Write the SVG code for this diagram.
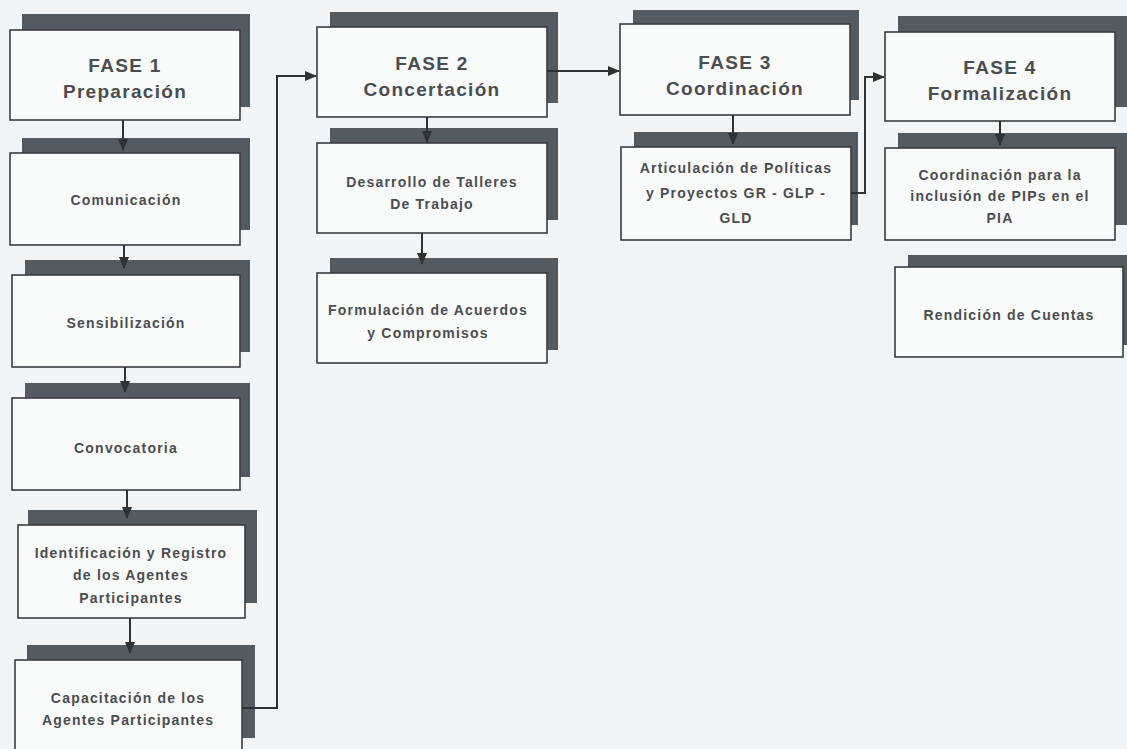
<svg xmlns="http://www.w3.org/2000/svg" width="1127" height="749" viewBox="0 0 1127 749">
<style>
.bg{fill:#f3f4f5}
.sh{fill:#535a60}
.bx{fill:#f9fafa;stroke:#3a3d40;stroke-width:1.6}
.t{font-family:"Liberation Sans",Arial,sans-serif;font-weight:bold;fill:#4a4d51;text-anchor:middle}
.h{font-size:19px;letter-spacing:1.3px}
.s{font-size:14px;letter-spacing:1.2px}
.c{fill:none;stroke:#2f3235;stroke-width:2}
</style>
<defs>
<marker id="ah" markerWidth="12" markerHeight="12" refX="11" refY="6" orient="auto" markerUnits="userSpaceOnUse">
<path d="M0,1 L12,6 L0,11 Z" fill="#2f3235"/>
</marker>
</defs>
<rect class="bg" x="0" y="0" width="1127" height="749"/>

<g id="fase1"><rect class="sh" x="22" y="14" width="228" height="93"/><rect class="bx" x="10" y="30" width="230" height="90"/>
<text class="t h" x="125" y="72">FASE 1</text><text class="t h" x="125" y="98">Preparación</text></g>
<g id="comunicacion"><rect class="sh" x="22" y="138" width="228" height="92"/><rect class="bx" x="10" y="153" width="230" height="92"/>
<text class="t s" x="126" y="205">Comunicación</text></g>
<g id="sensibilizacion"><rect class="sh" x="25" y="260" width="225" height="92"/><rect class="bx" x="12" y="275" width="228" height="92"/>
<text class="t s" x="126" y="328">Sensibilización</text></g>
<g id="convocatoria"><rect class="sh" x="25" y="383" width="225" height="94"/><rect class="bx" x="12" y="398" width="228" height="92"/>
<text class="t s" x="126" y="453">Convocatoria</text></g>
<g id="identificacion"><rect class="sh" x="28" y="510" width="229" height="93"/><rect class="bx" x="18" y="525" width="227" height="93"/>
<text class="t s" x="131" y="558">Identificación y Registro</text><text class="t s" x="131" y="580">de los Agentes</text><text class="t s" x="131" y="603">Participantes</text></g>
<g id="capacitacion"><rect class="sh" x="27" y="645" width="228" height="93"/><rect class="bx" x="15" y="660" width="227" height="92"/>
<text class="t s" x="128" y="703">Capacitación de los</text><text class="t s" x="128" y="725">Agentes Participantes</text></g>

<g id="fase2"><rect class="sh" x="330" y="12" width="228" height="91"/><rect class="bx" x="317" y="27" width="230" height="90"/>
<text class="t h" x="432" y="70">FASE 2</text><text class="t h" x="432" y="96">Concertación</text></g>
<g id="desarrollo"><rect class="sh" x="330" y="128" width="228" height="92"/><rect class="bx" x="317" y="143" width="230" height="90"/>
<text class="t s" x="432" y="187">Desarrollo de Talleres</text><text class="t s" x="432" y="209">De Trabajo</text></g>
<g id="formulacion"><rect class="sh" x="330" y="258" width="228" height="92"/><rect class="bx" x="317" y="273" width="230" height="90"/>
<text class="t s" x="428" y="315">Formulación de Acuerdos</text><text class="t s" x="428" y="338">y Compromisos</text></g>

<g id="fase3"><rect class="sh" x="633" y="10" width="226" height="90"/><rect class="bx" x="620" y="24" width="230" height="91"/>
<text class="t h" x="735" y="69">FASE 3</text><text class="t h" x="735" y="95">Coordinación</text></g>
<g id="articulacion"><rect class="sh" x="634" y="132" width="224" height="93"/><rect class="bx" x="621" y="147" width="230" height="93"/>
<text class="t s" x="736" y="173">Articulación de Políticas</text><text class="t s" x="736" y="198">y Proyectos GR - GLP -</text><text class="t s" x="736" y="223">GLD</text></g>

<g id="fase4"><rect class="sh" x="898" y="16" width="229" height="91"/><rect class="bx" x="885" y="32" width="230" height="89"/>
<text class="t h" x="1000" y="74">FASE 4</text><text class="t h" x="1000" y="100">Formalización</text></g>
<g id="coordinacion"><rect class="sh" x="898" y="133" width="229" height="92"/><rect class="bx" x="885" y="148" width="230" height="92"/>
<text class="t s" x="1000" y="180">Coordinación para la</text><text class="t s" x="1000" y="201">inclusión de PIPs en el</text><text class="t s" x="1000" y="223">PIA</text></g>
<g id="rendicion"><rect class="sh" x="908" y="255" width="219" height="90"/><rect class="bx" x="895" y="267" width="228" height="90"/>
<text class="t s" x="1009" y="320">Rendición de Cuentas</text></g>

<g id="connectors">
<path class="c" d="M123,120 V150" marker-end="url(#ah)"/>
<path class="c" d="M124,245 V268" marker-end="url(#ah)"/>
<path class="c" d="M125,367 V392" marker-end="url(#ah)"/>
<path class="c" d="M127,490 V518" marker-end="url(#ah)"/>
<path class="c" d="M130,618 V653" marker-end="url(#ah)"/>
<path class="c" d="M242,708 H277 V76 H316" marker-end="url(#ah)"/>
<path class="c" d="M427,117 V142" marker-end="url(#ah)"/>
<path class="c" d="M422,233 V264" marker-end="url(#ah)"/>
<path class="c" d="M547,71 H619" marker-end="url(#ah)"/>
<path class="c" d="M733,115 V144" marker-end="url(#ah)"/>
<path class="c" d="M851,193 H865 V77 H884" marker-end="url(#ah)"/>
<path class="c" d="M1000,121 V145" marker-end="url(#ah)"/>
</g>
</svg>
